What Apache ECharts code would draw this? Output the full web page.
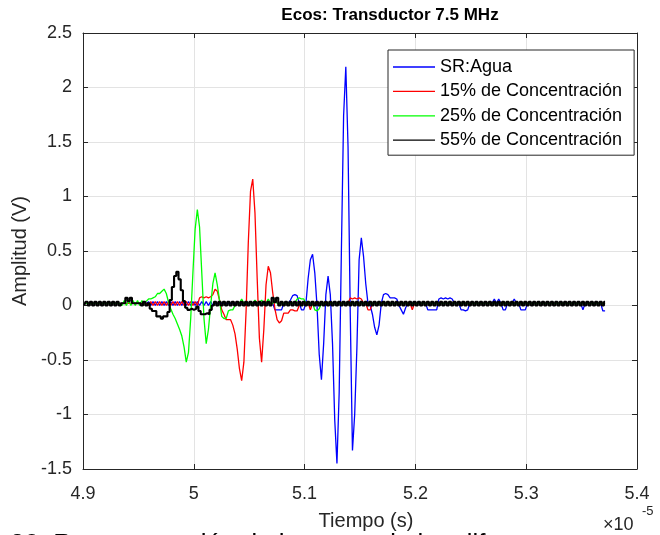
<!DOCTYPE html>
<html>
<head>
<meta charset="utf-8">
<script src="https://cdn.jsdelivr.net/npm/echarts@6/dist/echarts.min.js"></script>
<style>
  html, body { margin: 0; padding: 0; background: #ffffff; }
  #chart { width: 660px; height: 535px; }
</style>
</head>
<body>
<div id="chart"></div>
<script>
// Echo captures from the 7.5 MHz transducer, amplitude in volts.
// Time axis is shown in units of 1e-5 s; the scope samples are uniformly spaced.
const titleText = 'Ecos: Transductor 7.5 MHz';
const xLabelText = 'Tiempo (s)';
const yLabelText = 'Amplitud (V)';
const captionText = '20. Representación de los ecos de las diferentes muestras';

const seriesNames = ['SR:Agua', '15% de Concentración', '25% de Concentración', '55% de Concentración'];
const seriesColors = ['#0000ff', '#ff0000', '#00ff00', '#000000'];

const xTicks = [4.9, 5.0, 5.1, 5.2, 5.3, 5.4];
const yTicks = [-1.5, -1, -0.5, 0, 0.5, 1, 1.5, 2, 2.5];

// sampling of the captures (x 1e-5 s)
const sampleStart = 4.9012;
const sampleStep = 0.002;

// SR:Agua
const agua = [
  0.02,0.02,0.02,0.02,0.02,0.02,0.02,0.02,0.02,0.02,
  0.02,0.02,0.02,0.02,0.02,0.02,0.02,0.02,0.02,0.02,
  0.02,0.02,0.02,0.02,0.02,0.02,0.02,0.02,0.02,0.035,
  0,0.035,0,0.035,0,0.035,0,0.035,0,0.035,
  0,0.035,0,0.035,0,0.035,0,0.035,0,0.035,
  0,0.035,0,0.035,0,0.035,0,0.035,0,0.02,
  0.02,0.02,0.02,0.02,0.02,0.02,0.02,0.02,0.02,0.02,
  0.02,0.02,0.02,0.02,0.02,0.02,0.02,0.02,0.02,0.02,
  0.02,0.02,0.02,0.02,0.02,0.02,-0.04,-0.04,-0.04,-0.04,
  0.02,0.02,0.02,0.05,0.09,0.1,0.09,0.02,-0.04,-0.04,
  0.02,0.25,0.42,0.47,0.3,0,-0.45,-0.68,-0.35,0.1,
  0.27,0.1,-0.35,-1.05,-1.45,-0.8,0.5,1.74,2.19,1.46,
  -0.07,-1.33,-1,-0.39,0.42,0.62,0.45,0.2,0.02,0,
  -0.08,-0.2,-0.27,-0.18,0.02,0.1,0.11,0.1,0.07,0.07,
  0.07,0.06,0,-0.04,-0.08,-0.02,0.02,0.02,0.02,0.02,
  0.02,0.02,0.02,0.02,0.02,-0.04,-0.04,-0.04,-0.04,-0.04,
  0.06,0.07,0.06,0.07,0.06,0.07,0.06,0.02,0.02,0.02,
  -0.04,-0.04,-0.05,-0.04,0.02,0.02,0.02,0.02,0.02,0.02,
  0.02,0.02,0.02,0.02,0.02,0.06,0.02,0.06,0.02,-0.04,
  -0.04,0.02,0.02,0.02,0.06,0.02,0.02,-0.04,-0.04,-0.04,
  0.02,0.02,0.02,0.02,0.02,0.02,0.02,0.02,0.02,0.02,
  0.02,0.02,0.02,0.02,0.02,0.02,0.02,0.02,0.02,0.02,
  0.02,0.02,0.02,0.02,0.02,-0.04,0.02,0.02,0.02,0.02,
  0.02,0.02,0.02,0.02,-0.05,-0.05
];

// 15% de Concentración
const conc15 = [
  0.02,0.02,0.02,0.02,0.02,0.02,0.02,0.02,0.02,0.02,
  0.02,0.02,0.02,0.02,0.02,0.02,0.02,0.02,0.02,0.02,
  0.02,0.02,0.02,0.02,0.02,0.02,0.02,0.02,0.02,0,
  0.035,0,0.035,0,0.035,0,0.035,0,0.035,0,
  0.035,0,0.035,0,0.035,0,0.035,0,0.035,0,
  0.035,0,0.07,0.08,0.07,0.08,0.07,0.08,0.1,0.15,
  0.13,0.05,-0.04,-0.08,-0.13,-0.13,-0.13,-0.18,-0.26,-0.4,
  -0.58,-0.69,-0.52,-0.05,0.58,1.05,1.16,0.85,0.25,-0.3,
  -0.52,-0.22,0.19,0.36,0.3,0.12,-0.03,-0.13,-0.16,-0.14,
  -0.07,-0.07,-0.07,-0.04,-0.04,-0.05,-0.05,0,0.02,0.02,
  0.02,0.02,-0.04,0.02,0.02,0.02,0.02,0.02,0.02,0.02,
  0.02,0.02,0.02,0.02,0.02,0.02,0.02,0.02,0.02,0.02,
  0.07,0.06,0.07,0.06,0.07,0.06,0.02,0.02,-0.04,-0.04,
  0.02,0.02,0.02,0.02,0.02,0.02,0.02,0.02,0.02,0.02,
  0.02,0.02,0.02,0.02,0.02,0.02,0.02,0.02,-0.04,0.02,
  0.02,0.02,0.02,0.02,0.02,0.02,0.02,0.02,0.02,0.02,
  0.02,0.02,0.02,0.02,0.02,0.02,0.02,0.02,0.02,0.02,
  0.02,0.02,0.02,0.02,0.02,0.02,0.02,0.02,0.02,0.02,
  0.02,0.02,0.02,0.02,0.02,0.02,0.02,0.02,0.02,0.02,
  0.02,0.02,0.02,0.02,0.02,0.02,0.02,0.02,0.02,0.02,
  0.02,0.02,0.02,0.02,0.02,0.02,0.02,0.02,0.02,0.02,
  0.02,0.02,0.02,0.02,0.02,0.02,0.02,0.02,0.02,0.02,
  0.02,0.02,0.02,0.02,0.02,0.02,0.02,0.02,0.02,0.02,
  0.02,0.02,0.02,0.02,0.02,0.02
];

// 25% de Concentración
const conc25 = [
  0.02,0.02,0.02,0.02,0.02,0.02,0.02,0.02,0.02,0.02,
  0.02,0.02,0.02,0.02,0.02,0.02,0.02,0,0.045,0,
  0.045,0,0.045,0,0.045,0,0.045,0.02,0.04,0.06,
  0.06,0.07,0.08,0.11,0.11,0.13,0.15,0.11,0.03,-0.03,
  -0.08,-0.12,-0.17,-0.22,-0.28,-0.38,-0.52,-0.43,-0.12,0.3,
  0.7,0.88,0.72,0.3,-0.12,-0.35,-0.22,0,0.2,0.3,
  0.19,0.05,-0.1,-0.12,-0.12,-0.05,-0.04,-0.04,0,0.02,
  0.02,0.06,0.02,0.02,0.02,0.02,0.02,0.05,0.02,0.02,
  0.05,0.02,0.02,0.06,0.02,0.02,0.05,0.02,0.02,0.02,
  0.02,0.02,0.02,0.02,0.02,0.02,0.06,0.07,0.06,0.06,
  0.02,0.02,0.02,0.02,-0.04,-0.05,-0.03,0.02,0.02,0.02,
  0.02,0.02,0.02,0.02,0.02,0.02,0.02,0.02,0.02,0.02,
  0.02,0.02,0.02,0.02,0.02,0.02,0.02,0.02,0.02,0.02,
  0.02,0.02,0.02,0.02,0.02,0.02,0.02,0.02,0.02,0.02,
  0.02,0.02,0.02,0.02,0.02,0.02,0.02,0.02,0.02,0.02,
  0.02,0.02,0.02,0.02,0.02,0.02,0.02,0.02,0.02,0.02,
  0.02,0.02,0.02,0.02,0.02,0.02,0.02,0.02,0.02,0.02,
  0.02,0.02,0.02,0.02,0.02,0.02,0.02,0.02,0.02,0.02,
  0.02,0.02,0.02,0.02,0.02,0.02,0.02,0.02,0.02,0.02,
  0.02,0.02,0.02,0.02,0.02,0.02,0.02,0.02,0.02,0.02,
  0.02,0.02,0.02,0.02,0.02,0.02,0.02,0.02,0.02,0.02,
  0.02,0.02,0.02,0.02,0.02,0.02,0.02,0.02,0.02,0.02,
  0.02,0.02,0.02,0.02,0.02,0.02,0.02,0.02,0.02,0.02,
  0.02,0.02,0.02,0.02,0.02,0.02
];

// 55% de Concentración
const conc55 = [
  0,0.035,0,0.035,0,0.035,0,0.035,0,0.035,
  0,0.035,0,0.035,0,0.035,0,0.02,0.02,0.07,
  0.04,0.07,0.02,0.02,0.02,0.02,0,0.035,0,0.02,
  -0.03,-0.05,-0.05,-0.1,-0.1,-0.12,-0.1,-0.1,-0.06,0.05,
  0.17,0.27,0.31,0.24,0.14,0.04,-0.02,-0.04,-0.03,-0.04,
  -0.03,-0.01,-0.05,-0.08,-0.08,-0.07,-0.08,-0.04,0,0.035,
  0,0.035,0,0.035,0,0.035,0,0.035,0,0.035,
  0,0.035,0,0.035,0,0.035,0,0.035,0,0.035,
  0,0.035,0,0.035,0,0.07,0.03,0.07,0,0.035,
  0,0.035,0,0.035,0,0.035,0,0.035,0,0.035,
  0,0.035,0,0.035,0,0.035,0,0.035,0,0.035,
  0,0.035,0,0.035,0,0.035,0,0.035,0,0.035,
  0,0.035,0,0.035,0,0.035,0,0.035,0,0.035,
  0,0.035,0,0.035,0,0.035,0,0.035,0,0.035,
  0,0.035,0,0.035,0,0.035,0,0.035,0,0.035,
  0,0.035,0,0.035,0,0.035,0,0.035,0,0.035,
  0,0.035,0,0.035,0,0.035,0,0.035,0,0.035,
  0,0.035,0,0.035,0,0.035,0,0.035,0,0.035,
  0,0.035,0,0.035,0,0.035,0,0.035,0,0.035,
  0,0.035,0,0.035,0,0.035,0,0.035,0,0.035,
  0,0.035,0,0.035,0,0.035,0,0.035,0,0.035,
  0,0.035,0,0.035,0,0.035,0,0.035,0,0.035,
  0,0.035,0,0.035,0,0.035,0,0.035,0,0.035,
  0,0.035,0,0.035,0,0.035
];

const seriesValues = [agua, conc15, conc25, conc55];
// the 55% capture is drawn as held samples (quantised staircase)
const seriesStep = [false, false, false, 'middle'];
const seriesWidth = [1.3, 1.3, 1.3, 2.1];

// pair each capture with its sample time
function withTime(values) {
  return values.map((v, i) => [+(sampleStart + i * sampleStep).toFixed(4), v]);
}

const FONT = '"Liberation Sans", Arial, Helvetica, sans-serif';
const AXIS_COLOR = '#262626';
const GRID_COLOR = '#e3e3e3';

const fmt = v => String(Math.round(v * 10) / 10);

const chart = echarts.init(document.getElementById('chart'), null, { renderer: 'canvas' });

const baseX = {
  type: 'value', min: xTicks[0], max: xTicks[xTicks.length - 1], interval: 0.1,
  axisLine: { show: true, onZero: false, lineStyle: { color: AXIS_COLOR, width: 1 } },
  axisTick: { show: true, inside: true, length: 5, lineStyle: { color: AXIS_COLOR } }
};
const baseY = {
  type: 'value', min: yTicks[0], max: yTicks[yTicks.length - 1], interval: 0.5,
  axisLine: { show: true, onZero: false, lineStyle: { color: AXIS_COLOR, width: 1 } },
  axisTick: { show: true, inside: true, length: 5, lineStyle: { color: AXIS_COLOR } }
};

chart.setOption({
  animation: false,
  backgroundColor: '#ffffff',
  grid: { left: 83, right: 23, top: 33, bottom: 66, containLabel: false },
  xAxis: [
    Object.assign({}, baseX, {
      position: 'bottom',
      axisLabel: { show: true, margin: 16, color: AXIS_COLOR, fontSize: 18, fontFamily: FONT, formatter: fmt },
      splitLine: { show: true, lineStyle: { color: GRID_COLOR, width: 1 } }
    }),
    Object.assign({}, baseX, {
      position: 'top',
      axisLabel: { show: false },
      splitLine: { show: false }
    })
  ],
  yAxis: [
    Object.assign({}, baseY, {
      position: 'left',
      axisLabel: { show: true, margin: 11, color: AXIS_COLOR, fontSize: 18, fontFamily: FONT, formatter: fmt },
      splitLine: { show: true, lineStyle: { color: GRID_COLOR, width: 1 } }
    }),
    Object.assign({}, baseY, {
      position: 'right',
      axisLabel: { show: false },
      splitLine: { show: false }
    })
  ],
  legend: {
    orient: 'vertical',
    left: 388, top: 50,
    padding: [8, 12, 6, 5],
    itemGap: 6.4,
    itemWidth: 42, itemHeight: 1.3,
    icon: 'rect',
    backgroundColor: '#ffffff',
    borderColor: AXIS_COLOR, borderWidth: 1, borderRadius: 0,
    textStyle: { fontSize: 18, lineHeight: 18, color: '#000000', fontFamily: FONT },
    data: seriesNames
  },
  series: seriesValues.map((vals, k) => ({
    name: seriesNames[k],
    type: 'line',
    xAxisIndex: 0, yAxisIndex: 0,
    data: withTime(vals),
    step: seriesStep[k],
    showSymbol: false,
    symbol: 'none',
    sampling: null,
    clip: true,
    color: seriesColors[k],
    lineStyle: { color: seriesColors[k], width: seriesWidth[k] },
    emphasis: { disabled: true },
    z: 2 + k
  })),
  graphic: [
    { type: 'text', x: 390, y: 15,
      style: { text: titleText, fill: '#000000', font: 'bold 17px ' + FONT, align: 'center', verticalAlign: 'middle' } },
    { type: 'text', x: 20, y: 251, rotation: Math.PI / 2,
      style: { text: yLabelText, fill: AXIS_COLOR, font: '20px ' + FONT, align: 'center', verticalAlign: 'middle' } },
    { type: 'text', x: 366, y: 521,
      style: { text: xLabelText, fill: AXIS_COLOR, font: '20px ' + FONT, align: 'center', verticalAlign: 'middle' } },
    { type: 'text', x: 603, y: 525,
      style: { text: '×10', fill: AXIS_COLOR, font: '18px ' + FONT, align: 'left', verticalAlign: 'middle' } },
    { type: 'text', x: 642, y: 511,
      style: { text: '-5', fill: AXIS_COLOR, font: '13px ' + FONT, align: 'left', verticalAlign: 'middle' } },
    { type: 'text', x: 10, y: 532,
      style: { text: captionText, fill: '#000000', font: '26px ' + FONT, align: 'left', verticalAlign: 'top' } }
  ]
});
</script>
</body>
</html>
